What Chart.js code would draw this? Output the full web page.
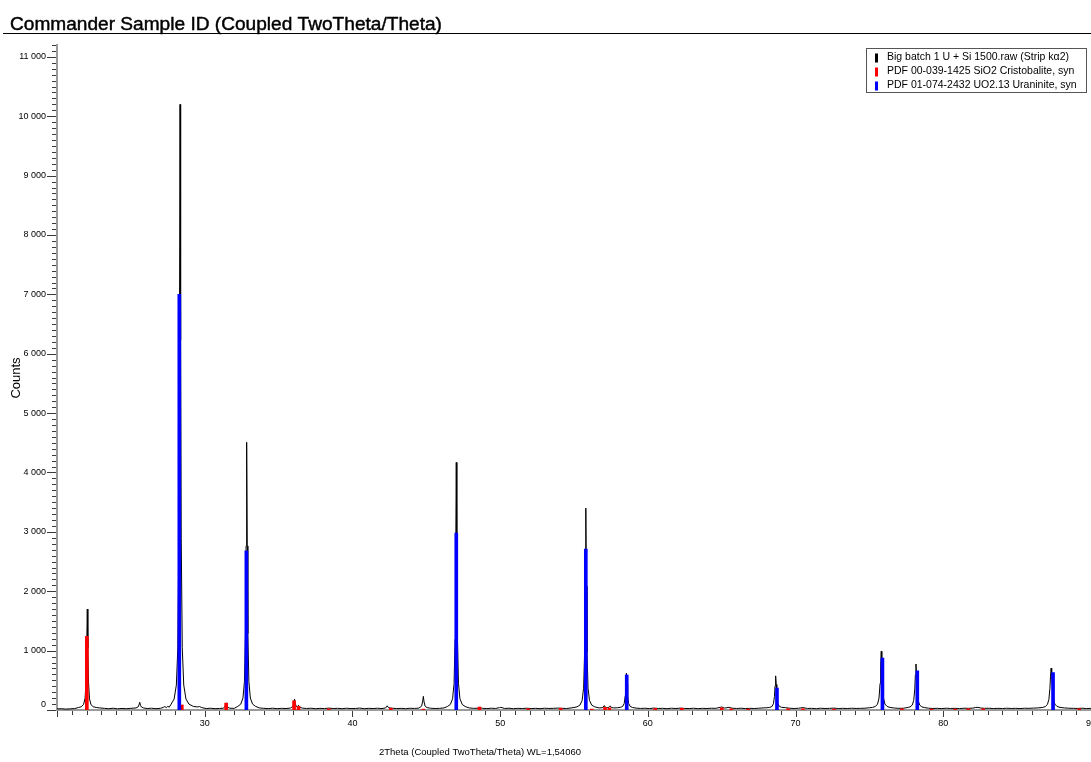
<!DOCTYPE html>
<html>
<head>
<meta charset="utf-8">
<script src="https://cdn.jsdelivr.net/npm/chart.js@4.4.1/dist/chart.umd.min.js"></script>
<style>
  html, body { margin: 0; padding: 0; background: #ffffff; }
  canvas { display: block; }
</style>
</head>
<body>
<canvas id="xrd" width="1091" height="762"></canvas>
<script>
// ---- Texts ----
const chartTitle = 'Commander Sample ID (Coupled TwoTheta/Theta)';
const xAxisTitle = '2Theta (Coupled TwoTheta/Theta) WL=1,54060';
const yAxisTitle = 'Counts';
const seriesLabels = [
  'Big batch 1 U + Si 1500.raw (Strip kα2)',
  'PDF 00-039-1425 SiO2 Cristobalite, syn',
  'PDF 01-074-2432 UO2.13 Uraninite, syn'
];
const seriesColors = ['#000000', '#ff0000', '#0000ff'];

// ---- Tick labels ----
const xLabelledTicks = [30, 40, 50, 60, 70, 80, 90];
const yLabelledTicks = [0, 1000, 2000, 3000, 4000, 5000, 6000, 7000, 8000, 9000, 10000, 11000];

// ---- Measured scan: [2Theta, counts] ----
const scan = [
  [20.0, 18], [20.3, 22], [20.6, 15], [20.9, 20], [21.2, 24],
  [21.45, 42], [21.65, 55], [21.8, 94], [21.9, 197], [21.97, 498], [22.01, 1048], [22.05, 1700],
  [22.09, 1040], [22.13, 490], [22.2, 190], [22.3, 90], [22.45, 55], [22.65, 42],
  [22.9, 35], [23.2, 28], [23.5, 22], [23.8, 30], [24.1, 20], [24.4, 26], [24.7, 22], [25.0, 28],
  [25.35, 35], [25.48, 50], [25.55, 85], [25.6, 130], [25.65, 80], [25.72, 50], [25.85, 35],
  [26.1, 25], [26.4, 30], [26.7, 22], [27.0, 28],
  [27.2, 45], [27.3, 58], [27.4, 40], [27.5, 62], [27.6, 48], [27.73, 100], [27.93, 185],
  [28.08, 420], [28.18, 1050], [28.25, 2890], [28.29, 6230], [28.33, 10200], [28.37, 6230],
  [28.41, 2890], [28.48, 1050], [28.58, 420], [28.73, 185], [28.93, 100], [29.23, 60],
  [29.5, 52], [29.65, 58], [29.8, 40], [30.1, 25], [30.4, 30], [30.7, 22], [31.0, 26],
  [31.25, 30], [31.33, 45], [31.4, 75], [31.45, 120], [31.5, 75], [31.57, 45], [31.7, 30],
  [32.0, 28], [32.24, 61], [32.44, 99], [32.59, 202], [32.69, 478], [32.76, 1289], [32.8, 2763],
  [32.84, 4510], [32.88, 2763], [32.92, 1289], [32.99, 478], [33.09, 202], [33.24, 99], [33.44, 61],
  [33.7, 35], [34.0, 28], [34.3, 24], [34.6, 30], [34.9, 22], [35.2, 28], [35.5, 25], [35.8, 32],
  [35.96, 60], [36.03, 110], [36.08, 185], [36.13, 110], [36.2, 60], [36.28, 55], [36.35, 80],
  [36.42, 50], [36.6, 32], [36.9, 26], [37.2, 30], [37.5, 22], [37.8, 28], [38.1, 24], [38.4, 32],
  [38.7, 25], [39.0, 28], [39.3, 22], [39.6, 30], [39.9, 24], [40.2, 26], [40.5, 32], [40.8, 22],
  [41.1, 28], [41.4, 25], [41.7, 30], [42.0, 24], [42.25, 35], [42.35, 70], [42.45, 38], [42.7, 30],
  [43.0, 24], [43.3, 28], [43.6, 22], [43.9, 30], [44.2, 26], [44.5, 32],
  [44.68, 65], [44.75, 135], [44.8, 230], [44.85, 135], [44.92, 65], [45.05, 40],
  [45.3, 30], [45.6, 25], [45.9, 28], [46.2, 35],
  [46.43, 59], [46.63, 94], [46.78, 189], [46.88, 444], [46.95, 1193], [46.99, 2555], [47.03, 4170],
  [47.07, 2555], [47.11, 1193], [47.18, 444], [47.28, 189], [47.43, 94], [47.63, 59],
  [47.9, 35], [48.2, 28], [48.5, 30], [48.65, 38], [48.8, 28], [49.1, 24], [49.4, 30], [49.7, 26],
  [49.95, 40], [50.05, 45], [50.3, 26], [50.6, 30], [50.9, 22], [51.2, 28], [51.5, 25], [51.8, 30],
  [52.1, 24], [52.4, 28], [52.7, 22], [53.0, 30], [53.3, 26], [53.6, 28], [53.9, 32], [54.2, 28],
  [54.5, 25], [54.8, 35], [55.0, 42],
  [55.2, 53], [55.4, 82], [55.55, 160], [55.65, 367], [55.72, 977], [55.76, 2086], [55.8, 3400],
  [55.84, 2086], [55.88, 977], [55.95, 367], [56.05, 160], [56.2, 82], [56.4, 53],
  [56.7, 35], [56.95, 40], [57.05, 75], [57.12, 45], [57.3, 38], [57.4, 55], [57.45, 70], [57.52, 42],
  [57.7, 35], [57.95, 38],
  [58.15, 45], [58.3, 62], [58.4, 111], [58.47, 242], [58.51, 438], [58.55, 620], [58.59, 438],
  [58.63, 242], [58.7, 111], [58.8, 62], [58.95, 43],
  [59.2, 32], [59.5, 26], [59.8, 30], [60.1, 24], [60.4, 32], [60.7, 26], [61.0, 28], [61.3, 22],
  [61.6, 30], [61.9, 25], [62.2, 32], [62.5, 26], [62.8, 24], [63.1, 30], [63.4, 22], [63.7, 28],
  [64.0, 25], [64.3, 30], [64.6, 28], [64.9, 45], [65.0, 50], [65.2, 32], [65.5, 45], [65.7, 30],
  [66.0, 26], [66.3, 30], [66.6, 24], [66.9, 28], [67.2, 25], [67.5, 30], [67.8, 35], [68.05, 38],
  [68.25, 43], [68.4, 59], [68.5, 105], [68.57, 226], [68.61, 407], [68.65, 575], [68.69, 430],
  [68.73, 240], [68.8, 110], [68.9, 62], [69.05, 45],
  [69.3, 40], [69.6, 30], [69.9, 25], [70.2, 30], [70.5, 40], [70.8, 26], [71.1, 28], [71.4, 22],
  [71.7, 30], [72.0, 25], [72.3, 28], [72.6, 32], [72.9, 24], [73.2, 28], [73.5, 25], [73.8, 30],
  [74.1, 26], [74.4, 28], [74.7, 30], [75.0, 38],
  [75.2, 43], [75.4, 59], [75.55, 100], [75.65, 202], [75.72, 447], [75.76, 754], [75.8, 990],
  [75.84, 754], [75.88, 447], [75.95, 202], [76.05, 100], [76.2, 59], [76.4, 43],
  [76.7, 33], [77.0, 28], [77.3, 30],
  [77.55, 40], [77.75, 52], [77.9, 84], [78.0, 163], [78.07, 353], [78.11, 592], [78.15, 775],
  [78.19, 592], [78.23, 353], [78.3, 163], [78.4, 84], [78.55, 52], [78.75, 40],
  [79.0, 30], [79.3, 26], [79.6, 28], [79.9, 24], [80.2, 30], [80.5, 26], [80.8, 28], [81.1, 24],
  [81.4, 30], [81.7, 28], [82.0, 32], [82.2, 42], [82.35, 45], [82.5, 35], [82.8, 28], [83.1, 30],
  [83.4, 24], [83.7, 28], [84.0, 25], [84.3, 30], [84.6, 26], [84.9, 28], [85.2, 24], [85.5, 30],
  [85.8, 28], [86.1, 32], [86.4, 35], [86.7, 42],
  [86.9, 56], [87.05, 93], [87.15, 179], [87.22, 368], [87.26, 570], [87.3, 705], [87.34, 600],
  [87.38, 420], [87.45, 200], [87.55, 100], [87.7, 60], [87.9, 44],
  [88.2, 35], [88.5, 30], [88.8, 28], [89.1, 26], [89.4, 30], [89.7, 24], [90.0, 28]
];

// ---- Reference sticks: SiO2 cristobalite ----
const cristobaliteTwoTheta = [22.02, 28.45, 31.45, 36.05, 36.35, 38.4, 42.6, 44.8, 48.6, 51.9, 54.1, 56.2, 57.1, 57.4,
  60.5, 62.3, 65.0, 65.65, 66.8, 69.5, 70.5, 72.6, 77.2, 79.2, 80.8, 81.7, 82.7, 89.2];
const cristobaliteCounts = [1240, 85, 115, 155, 60, 20, 30, 15, 50, 20, 30, 15, 45, 35,
  25, 30, 35, 20, 15, 20, 20, 15, 20, 15, 15, 20, 20, 20];

// ---- Reference sticks: UO2.13 uraninite ----
const uraniniteTwoTheta = [28.28, 32.82, 47.03, 55.8, 58.57, 68.74, 75.88, 78.24, 87.43];
const uraniniteCounts = [7000, 2680, 2980, 2710, 590, 370, 875, 660, 630];

const FONT = '"Liberation Sans", Arial, Helvetica, sans-serif';

function sticks(xs, ys) {
  return xs.map((x, i) => ({ x: x, y: ys[i] }));
}

function formatCounts(v) {
  if (v === 0) return ['0', ''];           // lifted off the x axis line
  const k = Math.floor(v / 1000);
  return k + ' 000';
}

// Title, tick marks, axis titles and the boxed legend
const decorations = {
  id: 'decorations',
  afterDraw(chart) {
    const ctx = chart.ctx;
    const { left, bottom } = chart.chartArea;
    const xs = chart.scales.x;
    const ys = chart.scales.y;
    ctx.save();

    // tick marks
    ctx.strokeStyle = '#3a3a3a';
    ctx.lineWidth = 1;
    ctx.beginPath();
    ys.ticks.forEach(t => {
      const y = Math.round(ys.getPixelForValue(t.value)) + 0.5;
      const len = Math.round(t.value) % 1000 === 0 ? 9 : 4;
      ctx.moveTo(left - len - 1, y);
      ctx.lineTo(left - 1, y);
    });
    xs.ticks.forEach(t => {
      const x = Math.round(xs.getPixelForValue(t.value)) + 0.5;
      const len = Math.round(t.value) % 10 === 0 ? 6 : 4;
      ctx.moveTo(x, bottom + 1);
      ctx.lineTo(x, bottom + 1 + len);
    });
    ctx.stroke();

    // chart title with rule
    ctx.fillStyle = '#000';
    ctx.strokeStyle = '#000';
    ctx.font = '19.1px ' + FONT;
    ctx.textAlign = 'left';
    ctx.textBaseline = 'alphabetic';
    ctx.fillText(chartTitle, 10, 30);
    ctx.lineWidth = 0.45;
    ctx.strokeText(chartTitle, 10, 30);
    ctx.lineWidth = 1;
    ctx.beginPath();
    ctx.moveTo(3, 33.5);
    ctx.lineTo(chart.width, 33.5);
    ctx.stroke();

    // axis titles
    ctx.font = '13px ' + FONT;
    ctx.save();
    ctx.translate(16, 378);
    ctx.rotate(-Math.PI / 2);
    ctx.textAlign = 'center';
    ctx.textBaseline = 'middle';
    ctx.fillText(yAxisTitle, 0, 0);
    ctx.restore();

    ctx.font = '9.5px ' + FONT;
    ctx.textAlign = 'center';
    ctx.textBaseline = 'middle';
    ctx.fillText(xAxisTitle, 480, 752);

    // legend box
    const bx = 866.5, by = 48.5, bw = 220, bh = 44;
    ctx.fillStyle = '#ffffff';
    ctx.fillRect(bx, by, bw, bh);
    ctx.strokeStyle = '#555';
    ctx.strokeRect(bx, by, bw, bh);
    ctx.font = '10.5px ' + FONT;
    ctx.textAlign = 'left';
    ctx.textBaseline = 'middle';
    seriesLabels.forEach((label, i) => {
      const cy = 57.5 + i * 14;
      ctx.fillStyle = seriesColors[i];
      ctx.fillRect(875, cy - 4, 3, 9);
      ctx.fillStyle = '#000';
      ctx.fillText(label, 887, cy);
    });
    ctx.restore();
  }
};

new Chart(document.getElementById('xrd'), {
  type: 'line',
  data: {
    datasets: [
      {
        type: 'line',
        label: seriesLabels[0],
        data: scan.map(p => ({ x: p[0], y: p[1] })),
        borderColor: seriesColors[0],
        borderWidth: 1,
        pointRadius: 0,
        tension: 0,
        fill: false,
        order: 2
      },
      {
        type: 'bar',
        label: seriesLabels[1],
        data: sticks(cristobaliteTwoTheta, cristobaliteCounts),
        backgroundColor: seriesColors[1],
        borderWidth: 0,
        barThickness: 3,
        grouped: false,
        order: 1
      },
      {
        type: 'bar',
        label: seriesLabels[2],
        data: sticks(uraniniteTwoTheta, uraniniteCounts),
        backgroundColor: seriesColors[2],
        borderWidth: 0,
        barThickness: 3,
        grouped: false,
        order: 0
      }
    ]
  },
  options: {
    responsive: false,
    animation: false,
    events: [],
    layout: { padding: { top: 45, left: 0, right: 0, bottom: 0 }, autoPadding: false },
    plugins: {
      legend: { display: false },
      title: { display: false },
      tooltip: { enabled: false }
    },
    scales: {
      x: {
        type: 'linear',
        min: 20,
        max: 90,
        offset: false,
        grid: { display: false, drawTicks: false },
        border: { display: true, color: '#9a9a9a', width: 2 },
        ticks: {
          stepSize: 1,
          autoSkip: false,
          maxRotation: 0,
          padding: 8,
          color: '#000',
          font: { family: FONT, size: 9 },
          callback: v => xLabelledTicks.includes(Math.round(v)) && Math.abs(v - Math.round(v)) < 1e-6 ? String(Math.round(v)) : ''
        },
        afterFit: s => { s.height = 52; s.paddingLeft = 0; s.paddingRight = 0; }
      },
      y: {
        type: 'linear',
        min: 0,
        max: 11200,
        grid: { display: false, drawTicks: false },
        border: { display: true, color: '#9a9a9a', width: 2 },
        ticks: {
          stepSize: 100,
          autoSkip: false,
          padding: 11,
          color: '#000',
          font: { family: FONT, size: 9 },
          callback: v => yLabelledTicks.includes(Math.round(v)) ? formatCounts(Math.round(v)) : ''
        },
        afterFit: s => { s.width = 57; s.paddingTop = 0; s.paddingBottom = 0; }
      }
    }
  },
  plugins: [decorations]
});
</script>
</body>
</html>
